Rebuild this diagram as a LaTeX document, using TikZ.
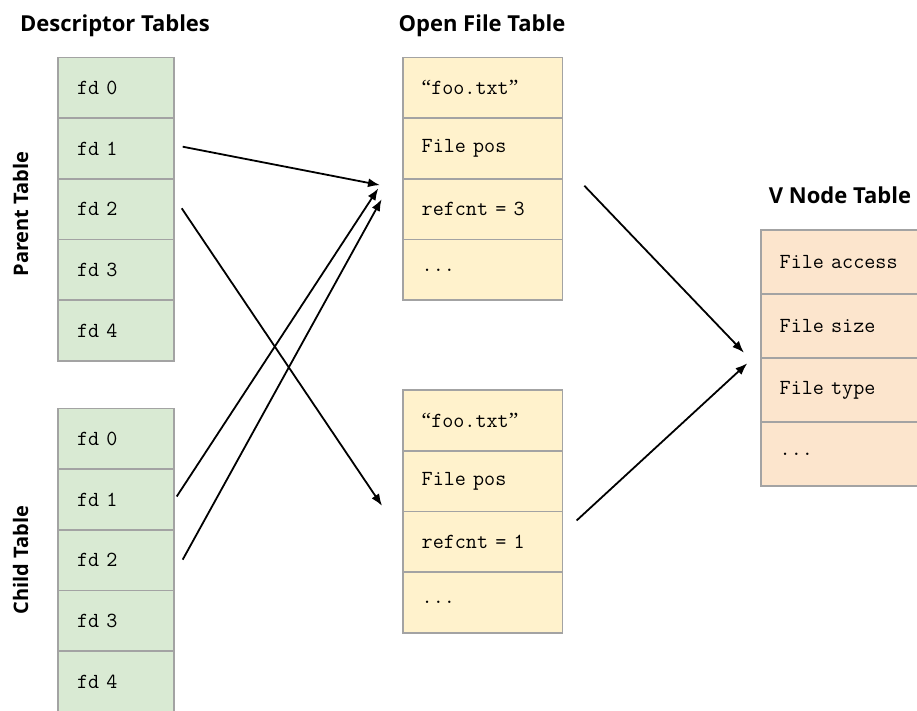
\documentclass[tikz,border=0pt]{standalone}
\usepackage{fontspec}
\setmainfont{Open Sans}
\newfontfamily\quotefont{Liberation Serif}
\usetikzlibrary{positioning,calc,arrows.meta}

\definecolor{fdgreen}{RGB}{217,234,211}
\definecolor{ofyellow}{RGB}{255,242,204}
\definecolor{vnorange}{RGB}{252,229,205}
\definecolor{cellgray}{RGB}{163,163,163}

\newcommand{\fname}[1]{{\quotefont “}#1{\quotefont ”}}

\tikzset{
  cell/.style={draw=cellgray, line width=1.6pt, outer sep=0pt, inner xsep=19pt,
    inner ysep=0pt, align=left, font=\ttfamily\fontsize{21.5}{23}\selectfont},
  fdcell/.style={cell, fill=fdgreen, text width=78pt, minimum height=60.7pt},
  ofcell/.style={cell, fill=ofyellow, text width=121.6pt, minimum height=60.7pt},
  vncell/.style={cell, fill=vnorange, text width=122pt, minimum height=64pt},
  title/.style={font=\bfseries\fontsize{22}{26}\selectfont, anchor=base},
  sidelabel/.style={font=\bfseries\fontsize{20}{24}\selectfont, anchor=base, rotate=90},
  ptr/.style={-{Latex[length=12pt,width=9pt]}, line width=1.8pt},
}

\begin{document}
\begin{tikzpicture}[x=1pt,y=-1pt]
\useasboundingbox (0,0) rectangle (917,710);

% Text Node
\node[title] (ttlfd) at (115,31.7) {Descriptor Tables};
% Text Node
\node[title] (ttlof) at (482,31.7) {Open File Table};
% Text Node
\node[title] (ttlvn) at (840,203.3) {V Node Table};
% Text Node
\node[sidelabel] (lblparent) at (28,214) {Parent Table};
% Text Node
\node[sidelabel] (lblchild) at (28,560) {Child Table};

%Parent descriptor table
\node[fdcell] (p0) at (116,87.7) {fd 0};
\node[fdcell, below=0pt of p0] (p1) {fd 1};
\node[fdcell, below=0pt of p1] (p2) {fd 2};
\node[fdcell, below=0pt of p2] (p3) {fd 3};
\node[fdcell, below=0pt of p3] (p4) {fd 4};

%Child descriptor table
\node[fdcell] (c0) at (116,438.7) {fd 0};
\node[fdcell, below=0pt of c0] (c1) {fd 1};
\node[fdcell, below=0pt of c1] (c2) {fd 2};
\node[fdcell, below=0pt of c2] (c3) {fd 3};
\node[fdcell, below=0pt of c3] (c4) {fd 4};

%Open file entry (shared)
\node[ofcell] (o1a) at (482.5,87.7) {\fname{foo.txt}};
\node[ofcell, below=0pt of o1a] (o1b) {File pos};
\node[ofcell, below=0pt of o1b] (o1c) {refcnt = 3};
\node[ofcell, below=0pt of o1c] (o1d) {...};

%Open file entry (second)
\node[ofcell] (o2a) at (482.5,420.4) {\fname{foo.txt}};
\node[ofcell, below=0pt of o2a] (o2b) {File pos};
\node[ofcell, below=0pt of o2b] (o2c) {refcnt = 1};
\node[ofcell, below=0pt of o2c] (o2d) {...};

%V node entry
\node[vncell] (v1) at (840.7,262) {File access};
\node[vncell, below=0pt of v1] (v2) {File size};
\node[vncell, below=0pt of v2] (v3) {File type};
\node[vncell, below=0pt of v3] (v4) {...};

%Straight Lines
\draw[ptr] ($(p1.east)+(8.7,-1.7)$) -- ($(o1c.west)+(-22.7,-24)$);
\draw[ptr] ($(p2.east)+(7.7,-0.8)$) -- ($(o2b.west)+(-20.6,24.8)$);
\draw[ptr] ($(c1.east)+(2.7,-2.9)$) -- ($(o1c.west)+(-24.4,-20.8)$);
\draw[ptr] ($(c2.east)+(8.7,-0.5)$) -- ($(o1c.west)+(-21,-10)$);
\draw[ptr] ($(o1c.east)+(22,-23.4)$) -- ($(v2.west)+(-16.7,26.7)$);
\draw[ptr] ($(o2c.east)+(14.3,-21.3)$) -- ($(v2.west)+(-13.4,37.3)$);
\end{tikzpicture}
\end{document}
